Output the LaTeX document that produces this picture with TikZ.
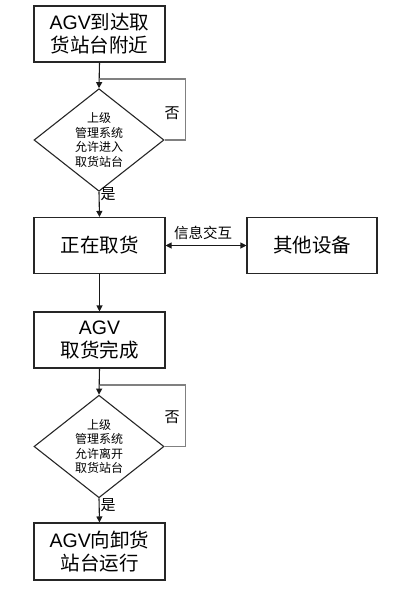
\documentclass[tikz,border=0pt]{standalone}
\usepackage{fontspec}
\setmainfont{Noto Sans CJK SC}
\newfontfamily\latf{Liberation Sans}
\usetikzlibrary{arrows.meta,shapes.geometric}
\tikzset{
  x=1pt,y=-1pt,
  boxnode/.style={draw=black!85,line width=1.1pt,minimum width=131pt,minimum height=56pt,inner sep=0pt,align=center,font=\fontsize{19.5}{23}\selectfont},
  decnode/.style={draw=black!85,line width=1.1pt,diamond,minimum width=130pt,minimum height=80pt,inner sep=0pt,align=center,font=\fontsize{12}{14.5}\selectfont},
  flowline/.style={draw=black!90,line width=1.1pt},
  flowarrow/.style={flowline,-{Triangle[length=6pt,width=6pt]}},
  loopline/.style={draw=black!50,line width=1.6pt},
  lbl/.style={font=\fontsize{15}{17}\selectfont,inner sep=0pt},
}
\begin{document}
\begin{tikzpicture}
\useasboundingbox (0,0) rectangle (410,589);
\node[boxnode] (b1) at (99.5,34) {{\latf AGV}到达取\\货站台附近};
\node[decnode] (d1) at (99,140) {上级\\管理系统\\允许进入\\取货站台};
\node[boxnode] (b2) at (99.5,245.5) {正在取货};
\node[boxnode,minimum width=130pt] (b5) at (312,245.5) {其他设备};
\node[boxnode] (b3) at (99.5,340) {{\latf AGV}\\取货完成};
\node[decnode,minimum height=79pt] (d2) at (99,446.5) {上级\\管理系统\\允许离开\\取货站台};
\node[boxnode,minimum height=57pt] (b4) at (99.5,551.5) {{\latf AGV}向卸货\\站台运行};
\coordinate (j1) at (b1.south |- 0,79);
\coordinate (j2) at (b3.south |- 0,385);
\draw[flowarrow] (b1.south) -- (d1.north);
\draw[loopline] (d1.east) -- ++(21,0) |- (j1);
\draw[flowarrow] (d1.south) -- (b2.north);
\draw[flowline,{Triangle[length=6pt,width=6pt]}-{Triangle[length=6pt,width=6pt]}] (b2.east) -- (b5.west);
\draw[flowarrow] (b2.south) -- (b3.north);
\draw[flowarrow] (b3.south) -- (d2.north);
\draw[loopline] (d2.east) -- ++(21,0) |- (j2);
\draw[flowarrow] (d2.south) -- (b4.north);
\node[lbl] (n1) at (172,113) {否};
\node[lbl] (y1) at (108,194) {是};
\node[lbl] (n2) at (172,417) {否};
\node[lbl] (y2) at (108,505) {是};
\node[lbl,font=\fontsize{14.5}{17}\selectfont] (info) at (203,233) {信息交互};
\end{tikzpicture}
\end{document}
